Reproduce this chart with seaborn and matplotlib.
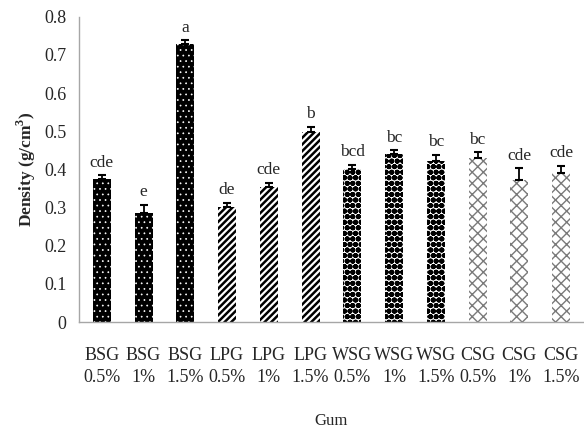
import numpy as np
import pandas as pd
import matplotlib
matplotlib.use("Agg")
import matplotlib.pyplot as plt
import seaborn as sns

# values
gums = ["BSG", "BSG", "BSG", "LPG", "LPG", "LPG", "WSG", "WSG", "WSG", "CSG", "CSG", "CSG"]
levels = ["0.5%", "1%", "1.5%"] * 4
density = [0.375, 0.285, 0.728, 0.302, 0.355, 0.497, 0.402, 0.440, 0.423, 0.430, 0.373, 0.390]
errors = [0.010, 0.022, 0.010, 0.010, 0.010, 0.015, 0.010, 0.010, 0.015, 0.015, 0.030, 0.020]
letters = ["cde", "e", "a", "de", "cde", "b", "bcd", "bc", "bc", "bc", "cde", "cde"]

labels = [f"{g}\n{l}" for g, l in zip(gums, levels)]
df = pd.DataFrame({"label": labels, "gum": gums, "density": density})

sns.set_style("white")
plt.rcParams["font.family"] = ["Liberation Serif", "DejaVu Serif"]

fig = plt.figure(figsize=(5.84, 4.3), dpi=100)
ax = fig.add_axes([0.135, 0.251, 0.865, 0.71])

sns.barplot(data=df, x="label", y="density", color="white", width=0.43,
            errorbar=None, ax=ax)

# fill styles per gum
styles = {
    "BSG": dict(facecolor="black", edgecolor="white", hatch="...", hlw=0.5),
    "LPG": dict(facecolor="white", edgecolor="black", hatch="/////", hlw=1.8),
    "WSG": dict(facecolor="white", edgecolor="black", hatch="ooo", hlw=2.0),
    "CSG": dict(facecolor="white", edgecolor="#7a7a7a", hatch="xxx", hlw=1.0),
}
for patch, g in zip(ax.patches, gums):
    st = styles[g]
    patch.set_facecolor(st["facecolor"])
    patch.set_edgecolor(st["edgecolor"])
    patch.set_hatch(st["hatch"])
    if hasattr(patch, "set_hatch_linewidth"):
        patch.set_hatch_linewidth(st["hlw"])
    patch.set_linewidth(0)

x = np.arange(len(density))
ax.errorbar(x, density, yerr=[np.zeros(len(errors)), errors], fmt="none",
            ecolor="black", elinewidth=1.3, capsize=3, capthick=1.5)

for xi, v, e, t in zip(x, density, errors, letters):
    ax.text(xi, v + e + 0.012, t, ha="center", va="bottom", fontsize=12.5)

ax.set_ylim(0, 0.8)
ax.set_xlim(-0.55, 11.55)
ax.set_yticks(np.arange(0, 0.81, 0.1))
ax.set_yticklabels(["0"] + [f"{v:.1f}" for v in np.arange(0.1, 0.81, 0.1)])
ax.tick_params(axis="both", length=0, labelsize=13)
ax.tick_params(axis="y", pad=9)
ax.tick_params(axis="x", pad=18)
for lbl in ax.get_xticklabels():
    lbl.set_linespacing(1.35)
ax.set_xlabel("Gum", fontsize=12, labelpad=20)
ax.set_ylabel("Density (g/cm$^\\mathregular{3}$)", fontsize=12.5, fontweight="bold", labelpad=4)

sns.despine(ax=ax, top=True, right=True)
for s in ["left", "bottom"]:
    ax.spines[s].set_color("#a6a6a6")
    ax.spines[s].set_linewidth(1.0)

fig.savefig("out.png", dpi=100)
